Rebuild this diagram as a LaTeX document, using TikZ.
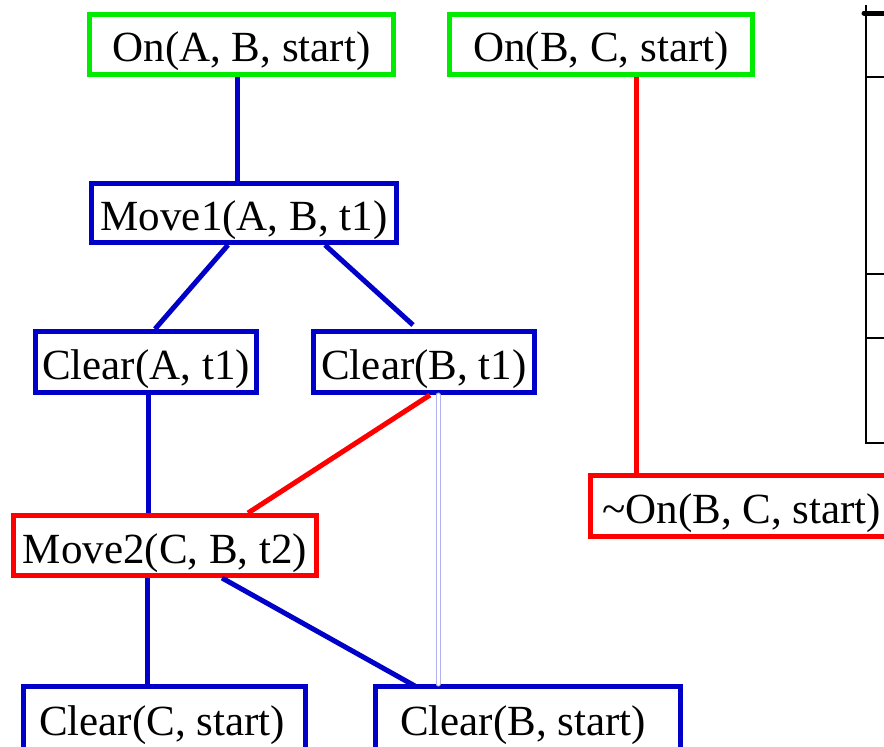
\documentclass[tikz,border=0pt]{standalone}
\usepackage{fontspec}
\setmainfont{Liberation Serif}
\definecolor{boxgreen}{RGB}{0,235,0}
\definecolor{boxblue}{RGB}{0,0,200}
\definecolor{boxred}{RGB}{255,0,0}
\begin{document}
\begin{tikzpicture}[x=1pt,y=-1pt,
  lit/.style={draw, line width=5pt, fill=white, inner sep=0pt,
    minimum height=60pt, text height=35pt, text depth=0pt,
    font=\fontsize{43}{43}\selectfont},
  goalbox/.style={lit, draw=boxgreen},
  stepbox/.style={lit, draw=boxblue},
  negbox/.style={lit, draw=boxred},
  link/.style={line width=5pt, boxblue},
  threat/.style={line width=5pt, boxred},
  frame/.style={line width=2pt, black}]
\useasboundingbox (0,0) rectangle (884,747);
\clip (0,0) rectangle (884,747);

% plan steps and conditions
\node[goalbox, minimum width=304pt] (onab) at (241.5,44) {On(A, B, start)};
\node[goalbox, minimum width=303pt] (onbc) at (601,44) {On(B, C, start)};
\node[stepbox, minimum width=305pt, minimum height=59pt] (move1) at (244,213) {Move1(A, B, t1)};
\node[stepbox, minimum width=221pt, minimum height=61pt] (cleara) at (146,362) {Clear(A, t1)};
\node[stepbox, minimum width=221pt, minimum height=61pt] (clearb) at (424,362) {Clear(B, t1)};
\node[negbox, minimum width=303pt] (move2) at (165,545.5) {Move2(C, B, t2)};
\node[negbox, minimum width=310pt, minimum height=61pt] (notonbc) at (745.5,506) {};
\node[anchor=base west, font=\fontsize{43}{43}\selectfont, inner sep=0pt] (notonbctext) at (602,523) {\char`\~On(B, C, start)};
\node[stepbox, minimum width=282pt, minimum height=80pt] (clearcs) at (164.5,726.5) {};
\node[stepbox, minimum width=305pt, minimum height=80pt] (clearbs) at (528,726.5) {};
\node[anchor=base, font=\fontsize{43}{43}\selectfont, inner sep=0pt] (clearcstext) at (162,735) {Clear(C, start)};
\node[anchor=base, font=\fontsize{43}{43}\selectfont, inner sep=0pt] (clearbstext) at (523,735) {Clear(B, start)};

% causal links and threats
\draw[link] ([xshift=-4.5pt]onab.south) -- ([xshift=-4.5pt]onab.south |- move1.north);
\draw[link] ([xshift=-16pt]move1.south) -- ([xshift=9pt]cleara.north);
\draw[link] ([xshift=81pt]move1.south) -- ([xshift=-11pt,yshift=4pt]clearb.north);
\draw[link] ([xshift=2pt]cleara.south) -- ([xshift=2pt]cleara.south |- move2.north);
\draw[threat] ([xshift=6pt]clearb.south) -- ([xshift=83pt]move2.north);
\draw[threat] ([xshift=35pt]onbc.south) -- ([xshift=35pt]onbc.south |- notonbc.north);
\draw[link] ([xshift=-18pt]move2.south) -- ([xshift=-18pt]move2.south |- clearcs.north);
\draw[link] ([xshift=57pt]move2.south) -- ([xshift=-113pt,yshift=-2pt]clearbs.north);
\draw[line width=5pt, boxblue!30, line cap=round] ([xshift=14pt]clearb.south) -- ([xshift=14pt]clearb.south |- clearbs.north);
\draw[line width=3pt, white, line cap=round] ([xshift=14pt]clearb.south) -- ([xshift=14pt]clearb.south |- clearbs.north);

% frame at the right edge
\draw[frame] (866,5) -- (866,443) -- (884,443);
\draw[line width=5pt, line cap=round] (864,13) -- (884,13);
\draw[frame] (866,77) -- (884,77);
\draw[frame] (866,274) -- (884,274);
\draw[frame] (866,338) -- (884,338);
\end{tikzpicture}
\end{document}
